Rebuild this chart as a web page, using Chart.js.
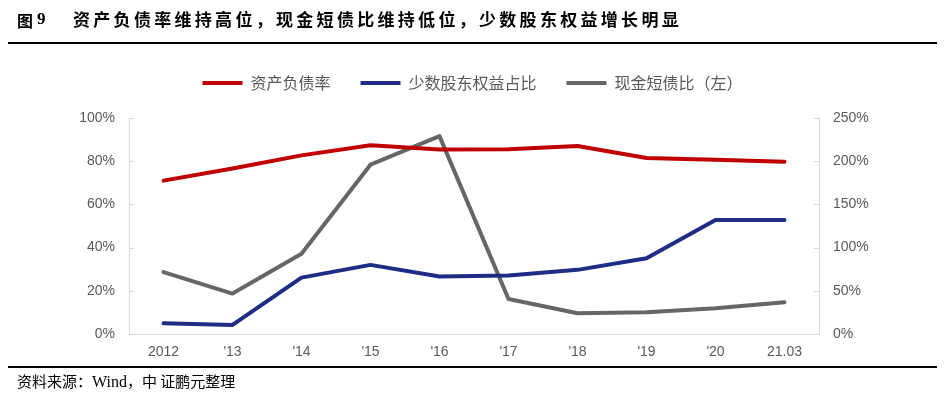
<!DOCTYPE html>
<html>
<head>
<meta charset="utf-8">
<script src="https://cdn.jsdelivr.net/npm/chart.js@4.4.1/dist/chart.umd.min.js"></script>
<style>
  html, body { margin: 0; padding: 0; background: #fff; }
  body { width: 945px; height: 398px; position: relative; overflow: hidden; }
  #wrap { position: absolute; left: 0; top: 0; width: 945px; height: 398px; }
  .t { position: absolute; font-family: "Noto Sans CJK SC", sans-serif; color: #000; white-space: nowrap; }
  #fig { left: 17px; top: 8px; font-size: 16px; font-weight: bold; line-height: 24px; }
  #fignum { left: 37px; top: 7px; font-size: 17px; font-weight: bold; line-height: 24px; font-family: "Liberation Serif", serif; }
  #title { left: 73px; top: 7px; font-size: 17px; font-weight: bold; line-height: 24px; letter-spacing: 3.3px; }
  #topline { position: absolute; left: 8px; right: 8px; top: 42px; height: 2px; background: #000; }
  #botline { position: absolute; left: 8px; right: 8px; top: 366px; height: 2px; background: #000; }
  #src { left: 17px; top: 370px; font-size: 15px; line-height: 22px; }
  #src .w { font-family: "Liberation Serif", serif; font-size: 16px; }
</style>
</head>
<body>
<div id="wrap"><canvas id="c" width="945" height="398"></canvas></div>
<div class="t" id="fig">图</div>
<div class="t" id="fignum">9</div>
<div class="t" id="title">资产负债率维持高位，现金短债比维持低位，少数股东权益增长明显</div>
<div id="topline"></div>
<div id="botline"></div>
<div class="t" id="src">资料来源：<span class="w">Wind</span>，中 证鹏元整理</div>
<script>
const categories = ["2012", "'13", "'14", "'15", "'16", "'17", "'18", "'19", "'20", "21.03"];
const debtRatio = [71.0, 76.6, 82.7, 87.4, 85.4, 85.5, 87.0, 81.5, 80.7, 79.8];
const minorityShare = [5.0, 4.2, 26.1, 32.0, 26.6, 27.1, 29.7, 35.1, 52.8, 52.8];
const cashShortDebt = [71.6, 46.8, 92.8, 196.0, 229.0, 40.6, 24.0, 25.2, 29.8, 36.8];
const leftTicks = [0, 20, 40, 60, 80, 100];
const rightTicks = [0, 50, 100, 150, 200, 250];
const seriesNames = ["资产负债率", "少数股东权益占比", "现金短债比（左）"];

const axisGray = '#d9d9d9';
const textGray = '#595959';

const innerTicks = {
  id: 'innerTicks',
  afterDraw(chart) {
    const ctx = chart.ctx;
    ctx.save();
    ctx.strokeStyle = axisGray;
    ctx.lineWidth = 1;
    const l = chart.scales.y, r = chart.scales.y2;
    l.ticks.forEach(t => {
      const y = Math.round(l.getPixelForValue(t.value)) + 0.5;
      ctx.beginPath(); ctx.moveTo(l.right, y); ctx.lineTo(l.right + 5, y); ctx.stroke();
    });
    r.ticks.forEach(t => {
      const y = Math.round(r.getPixelForValue(t.value)) + 0.5;
      ctx.beginPath(); ctx.moveTo(r.left - 5, y); ctx.lineTo(r.left, y); ctx.stroke();
    });
    ctx.restore();
  }
};

const lineStyle = { borderWidth: 4, borderCapStyle: 'round', borderJoinStyle: 'round', tension: 0 };

new Chart(document.getElementById('c'), {
  type: 'line',
  data: {
    labels: categories,
    datasets: [
      Object.assign({ label: seriesNames[0], data: debtRatio, yAxisID: 'y', borderColor: '#C00000', backgroundColor: '#C00000' }, lineStyle),
      Object.assign({ label: seriesNames[1], data: minorityShare, yAxisID: 'y', borderColor: '#1F2C85', backgroundColor: '#1F2C85' }, lineStyle),
      Object.assign({ label: seriesNames[2], data: cashShortDebt, yAxisID: 'y2', borderColor: '#666666', backgroundColor: '#666666' }, lineStyle)
    ]
  },
  options: {
    responsive: false,
    animation: false,
    devicePixelRatio: 1,
    layout: { padding: { top: 45, left: 0, right: 0, bottom: 0 } },
    elements: {
      point: { radius: 0, hoverRadius: 0 }
    },
    plugins: {
      tooltip: { enabled: false },
      title: { display: true, text: '', font: { size: 1, lineHeight: 1 }, padding: { top: 8, bottom: 8 }, weight: 500 },
      legend: {
        position: 'top',
        labels: {
          usePointStyle: true,
          pointStyle: 'line',
          pointStyleWidth: 40,
          boxHeight: 4,
          padding: 30,
          color: textGray,
          font: { family: '"Noto Sans CJK SC", sans-serif', size: 16 }
        }
      }
    },
    scales: {
      x: {
        type: 'category',
        offset: true,
        grid: { display: false, drawTicks: false },
        border: { display: true, color: axisGray, width: 1 },
        ticks: { color: textGray, padding: 10, maxRotation: 0, autoSkip: false,
                 font: { family: '"Liberation Sans", Arial, sans-serif', size: 14 } },
        afterFit(s) { s.height = 64; }
      },
      y: {
        position: 'left',
        min: 0, max: 100,
        afterBuildTicks(s) { s.ticks = leftTicks.map(v => ({ value: v })); },
        grid: { display: false, drawTicks: false },
        border: { display: true, color: axisGray, width: 1 },
        ticks: { color: textGray, padding: 14, callback: v => v + '%',
                 font: { family: '"Liberation Sans", Arial, sans-serif', size: 14 } },
        afterFit(s) { s.width = 129; }
      },
      y2: {
        position: 'right',
        min: 0, max: 250,
        afterBuildTicks(s) { s.ticks = rightTicks.map(v => ({ value: v })); },
        grid: { display: false, drawTicks: false },
        border: { display: true, color: axisGray, width: 1 },
        ticks: { color: textGray, padding: 14, callback: v => v + '%',
                 font: { family: '"Liberation Sans", Arial, sans-serif', size: 14 } },
        afterFit(s) { s.width = 126; }
      }
    }
  },
  plugins: [innerTicks]
});
</script>
</body>
</html>
